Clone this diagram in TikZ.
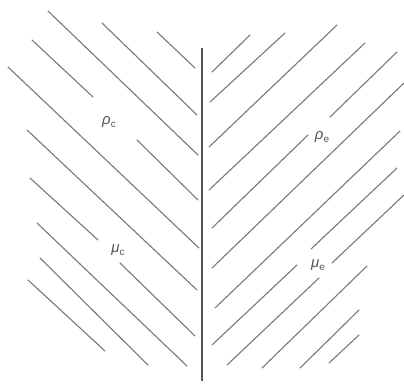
\documentclass[tikz,border=0pt]{standalone}
\usepackage{fontspec}
\setmainfont{Liberation Sans}
\definecolor{hatch}{RGB}{120,120,120}
\definecolor{axisc}{RGB}{85,85,85}
\definecolor{labelc}{RGB}{85,85,85}
\newcommand{\lblsub}[2]{#1\raisebox{-0.45ex}{\fontsize{10}{12}\selectfont\upshape #2}}
\begin{document}
\begin{tikzpicture}[x=1pt,y=-1pt,
  hatchline/.style={draw=hatch,line width=1.1pt,line cap=round},
  axisline/.style={draw=axisc,line width=1.3pt},
  lbl/.style={text=labelc,font=\fontsize{15}{17}\selectfont\itshape,inner sep=0pt}]
\useasboundingbox (0,0) rectangle (404,386);
% vertical divider
\coordinate (vtop) at (202,48);
\coordinate (vbot) at (202,381);
\draw[axisline] (vtop) -- (vbot);
% left hatching
\foreach \a/\b/\c/\d in {48/11/198/155, 102/23/197/115, 157/32/195/68, 32/40/93/97,
  8/67/199/248, 137/140/198/200, 27/130/197/290, 30/178/98/240,
  37/223/187/366, 120/263/195/336, 40/258/148/365, 28/280/105/351}
  \draw[hatchline] (\a,\b) -- (\c,\d);
% right hatching
\foreach \a/\b/\c/\d in {212/72/250/35, 210/102/285/33, 209/147/337/25, 209/190/365/43,
  212/228/308/135, 330/117/397/52, 212/268/404/83, 215/308/400/131,
  311/249/397/168, 212/345/297/265, 332/263/404/195, 227/365/319/278,
  262/368/367/266, 300/368/359/310, 329/363/359/335}
  \draw[hatchline] (\a,\b) -- (\c,\d);
% labels
\node[lbl] (rhoc) at (109,122) {\lblsub{ρ}{c}};
\node[lbl] (rhoe) at (322,137) {\lblsub{ρ}{e}};
\node[lbl] (muc) at (118,250) {\lblsub{μ}{c}};
\node[lbl] (mue) at (318,265) {\lblsub{μ}{e}};
\end{tikzpicture}
\end{document}
